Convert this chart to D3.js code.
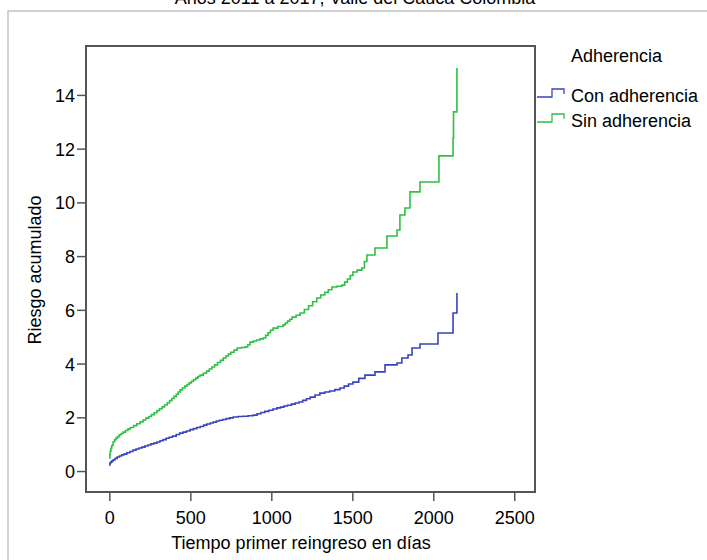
<!DOCTYPE html>
<html>
<head>
<meta charset="utf-8">
<script src="https://cdn.jsdelivr.net/npm/d3@7"></script>
<style>
	body { margin: 0; background: #fff; }
	text { font-family: "Liberation Sans", Arial, sans-serif; fill: #000; }
</style>
</head>
<body>
<div id="chart"></div>
<script>

// tiempo (dias) y riesgo acumulado
var tiempoSin = [0, 3, 6, 10, 15, 23, 32, 40, 50, 62, 73, 85, 100, 115, 130, 150, 170, 190, 208, 225, 243, 260, 277, 294, 310, 326, 341, 357, 372, 386, 400, 413, 425, 437, 451, 466, 480, 493, 507, 520, 533, 547, 560, 580, 600, 617, 633, 650, 668, 686, 703, 720, 735, 750, 770, 789, 815, 840, 855, 869, 890, 910, 930, 950, 965, 980, 995, 1011, 1040, 1073, 1086, 1100, 1114, 1128, 1153, 1178, 1204, 1230, 1255, 1281, 1305, 1330, 1352, 1374, 1405, 1436, 1453, 1470, 1487, 1504, 1530, 1559, 1575, 1590, 1640, 1714, 1776, 1794, 1825, 1856, 1918, 2035, 2122, 2125, 2146];
var riesgoSin = [0.48, 0.62, 0.74, 0.85, 0.95, 1.08, 1.16, 1.22, 1.28, 1.35, 1.40, 1.45, 1.51, 1.57, 1.62, 1.69, 1.76, 1.83, 1.90, 1.97, 2.03, 2.10, 2.17, 2.25, 2.32, 2.39, 2.46, 2.53, 2.62, 2.70, 2.78, 2.86, 2.94, 3.02, 3.09, 3.16, 3.22, 3.28, 3.34, 3.40, 3.46, 3.52, 3.57, 3.64, 3.72, 3.80, 3.87, 3.95, 4.04, 4.12, 4.21, 4.28, 4.35, 4.42, 4.50, 4.58, 4.60, 4.62, 4.70, 4.80, 4.84, 4.88, 4.92, 4.95, 5.05, 5.15, 5.24, 5.32, 5.38, 5.44, 5.51, 5.58, 5.65, 5.73, 5.80, 5.88, 6.01, 6.15, 6.30, 6.44, 6.55, 6.65, 6.75, 6.85, 6.88, 6.92, 7.03, 7.15, 7.28, 7.41, 7.48, 7.56, 7.80, 8.04, 8.30, 8.75, 8.97, 9.53, 9.79, 10.39, 10.76, 11.73, 12.40, 13.37, 15.0];

var tiempoCon = [0, 3, 6, 10, 16, 25, 36, 48, 62, 76, 90, 108, 127, 146, 165, 183, 201, 220, 238, 257, 275, 294, 313, 332, 351, 370, 390, 413, 434, 455, 476, 498, 519, 540, 561, 582, 602, 623, 642, 661, 680, 700, 720, 743, 765, 795, 825, 857, 888, 912, 936, 960, 985, 1010, 1035, 1057, 1078, 1100, 1124, 1147, 1171, 1194, 1217, 1240, 1270, 1300, 1330, 1360, 1392, 1424, 1450, 1477, 1504, 1540, 1578, 1640, 1702, 1776, 1806, 1844, 1869, 1918, 2029, 2122, 2146];
var riesgoCon = [0.22, 0.28, 0.31, 0.34, 0.38, 0.42, 0.47, 0.52, 0.56, 0.60, 0.63, 0.68, 0.73, 0.78, 0.82, 0.86, 0.89, 0.93, 0.97, 1.01, 1.04, 1.08, 1.13, 1.17, 1.22, 1.26, 1.30, 1.36, 1.41, 1.45, 1.49, 1.54, 1.58, 1.62, 1.66, 1.71, 1.75, 1.79, 1.82, 1.86, 1.89, 1.92, 1.95, 1.98, 2.01, 2.03, 2.04, 2.06, 2.08, 2.13, 2.18, 2.22, 2.26, 2.31, 2.35, 2.38, 2.42, 2.45, 2.49, 2.53, 2.57, 2.63, 2.69, 2.75, 2.83, 2.90, 2.94, 2.98, 3.03, 3.09, 3.16, 3.24, 3.31, 3.45, 3.57, 3.69, 3.95, 4.02, 4.21, 4.32, 4.58, 4.73, 5.14, 5.88, 6.63];

var xTicks = [0, 500, 1000, 1500, 2000, 2500];
var yTicks = [0, 2, 4, 6, 8, 10, 12, 14];

var series = [
	{name: "Con adherencia", color: "#3546bd", t: tiempoCon, v: riesgoCon},
	{name: "Sin adherencia", color: "#2fc045", t: tiempoSin, v: riesgoSin}
];

var width = 707, height = 560;
var box = {left: 86, right: 535, top: 46, bottom: 492};

var svg = d3.select("#chart").append("svg")
	.attr("width", width)
	.attr("height", height);

// marco exterior (gris claro)
svg.append("rect")
	.attr("x", 8).attr("y", 11)
	.attr("width", 760).attr("height", 600)
	.attr("fill", "none")
	.attr("stroke", "#c4c4c4")
	.attr("stroke-width", 1.5);

// titulo, cortado arriba como en el original
svg.append("text")
	.attr("x", 355).attr("y", 4)
	.attr("text-anchor", "middle")
	.style("font-size", "18px")
	.text("Años 2011 a 2017, Valle del Cauca Colombia");

var x = d3.scaleLinear().domain([-144, 2628]).range([box.left, box.right]);
var y = d3.scaleLinear().domain([-0.78, 15.82]).range([box.bottom, box.top]);

var xAxis = svg.append("g")
	.attr("transform", "translate(0," + box.bottom + ")")
	.call(d3.axisBottom(x).tickValues(xTicks).tickSize(9).tickPadding(5).tickFormat(d3.format("d")));

var yAxis = svg.append("g")
	.attr("transform", "translate(" + box.left + ",0)")
	.call(d3.axisLeft(y).tickValues(yTicks).tickSize(9).tickPadding(2).tickFormat(d3.format("d")));

[xAxis, yAxis].forEach(function(g) {
	g.select(".domain").remove();
	g.selectAll(".tick line").attr("stroke", "#555").attr("stroke-width", 1.5);
	g.selectAll(".tick text").style("font-size", "18px").attr("font-family", null);
});
xAxis.selectAll(".tick text").attr("dy", "1em");
yAxis.selectAll(".tick text").attr("dy", "0.36em");

svg.append("rect")
	.attr("x", box.left).attr("y", box.top)
	.attr("width", box.right - box.left).attr("height", box.bottom - box.top)
	.attr("fill", "none")
	.attr("stroke", "#555")
	.attr("stroke-width", 2);

// curvas escalonadas
var line = d3.line()
	.x(function(d) { return x(d[0]); })
	.y(function(d) { return y(d[1]); })
	.curve(d3.curveStepAfter);

svg.selectAll(".curva")
	.data(series)
	.enter().append("path")
		.attr("class", "curva")
		.attr("fill", "none")
		.attr("stroke", function(d) { return d.color; })
		.attr("stroke-width", 1.6)
		.attr("d", function(d) { return line(d3.zip(d.t, d.v)); });

// titulos de ejes
svg.append("text")
	.attr("x", 301).attr("y", 549)
	.attr("text-anchor", "middle")
	.style("font-size", "18px")
	.text("Tiempo primer reingreso en días");

svg.append("text")
	.attr("transform", "translate(41,270) rotate(-90)")
	.attr("text-anchor", "middle")
	.style("font-size", "18px")
	.text("Riesgo acumulado");

// leyenda
var legend = svg.append("g");

legend.append("text")
	.attr("x", 571).attr("y", 62)
	.style("font-size", "18px")
	.text("Adherencia");

var glyph = [[0, 8], [15, 8], [15, 0], [27, 0], [27, 5]];
var glyphLine = d3.line();

var item = legend.selectAll(".legend-item")
	.data(series)
	.enter().append("g")
		.attr("class", "legend-item")
		.attr("transform", function(d, i) { return "translate(537," + (89 + i * 25) + ")"; });

item.append("path")
	.attr("d", glyphLine(glyph))
	.attr("fill", "none")
	.attr("stroke", function(d) { return d.color; })
	.attr("stroke-width", 1.3);

item.append("text")
	.attr("x", 34).attr("y", 13)
	.style("font-size", "18px")
	.text(function(d) { return d.name; });

</script>
</body>
</html>
